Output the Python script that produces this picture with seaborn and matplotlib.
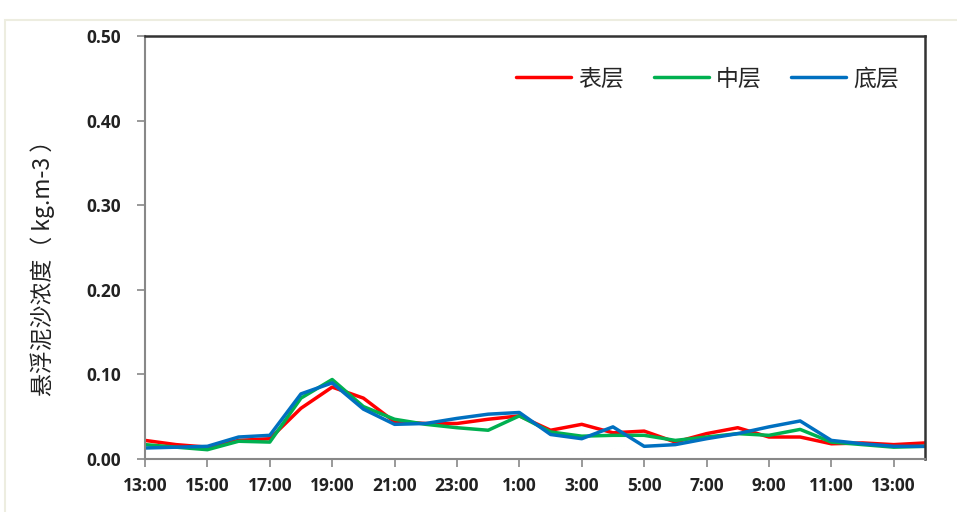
import numpy as np
import pandas as pd
import matplotlib
matplotlib.use('Agg')
import matplotlib.pyplot as plt
import seaborn as sns
from matplotlib.patches import Rectangle

# hourly samples, 13:00 through 14:00 next day
hours = ['13:00', '14:00', '15:00', '16:00', '17:00', '18:00', '19:00', '20:00',
         '21:00', '22:00', '23:00', '0:00', '1:00', '2:00', '3:00', '4:00',
         '5:00', '6:00', '7:00', '8:00', '9:00', '10:00', '11:00', '12:00',
         '13:00', '14:00']
surface = [0.022, 0.017, 0.014, 0.022, 0.024, 0.060, 0.085, 0.072, 0.044, 0.042,
           0.042, 0.047, 0.051, 0.034, 0.041, 0.031, 0.033, 0.020, 0.030, 0.037,
           0.026, 0.026, 0.018, 0.019, 0.017, 0.019]
middle = [0.017, 0.014, 0.011, 0.021, 0.020, 0.072, 0.094, 0.062, 0.047, 0.041,
          0.037, 0.034, 0.051, 0.032, 0.027, 0.028, 0.028, 0.022, 0.026, 0.030,
          0.028, 0.035, 0.020, 0.017, 0.014, 0.015]
bottom = [0.013, 0.014, 0.015, 0.026, 0.028, 0.077, 0.090, 0.059, 0.041, 0.042,
          0.048, 0.053, 0.055, 0.029, 0.024, 0.038, 0.015, 0.017, 0.024, 0.030,
          0.038, 0.045, 0.022, 0.018, 0.015, 0.015]
layers = ['表层', '中层', '底层']
colors = ['#FF0000', '#00B050', '#0070C0']

df = pd.DataFrame({
    'idx': list(range(len(hours))) * 3,
    'value': surface + middle + bottom,
    'layer': [layers[0]] * len(hours) + [layers[1]] * len(hours) + [layers[2]] * len(hours),
})

sns.set_style('white')
plt.rcParams['font.family'] = ['Noto Sans CJK SC', 'DejaVu Sans']

fig = plt.figure(figsize=(9.57, 5.12), dpi=100)
ax = fig.add_axes([0.1515, 0.1035, 0.815, 0.826])

sns.lineplot(data=df, x='idx', y='value', hue='layer', hue_order=layers,
             palette=colors, linewidth=2.5, ax=ax)

tick_font = ['Open Sans', 'DejaVu Sans']
ax.set_xlim(0, len(hours) - 1)
ax.set_ylim(0, 0.5)
ax.set_xticks(range(0, len(hours), 2))
ax.set_xticklabels(hours[::2], fontsize=12.5, fontweight='bold', family=tick_font)
ax.set_yticks(np.arange(0, 0.51, 0.1))
ax.set_yticklabels([f'{v:.2f}' for v in np.arange(0, 0.51, 0.1)],
                   fontsize=12.5, fontweight='bold', family=tick_font)
ax.tick_params(axis='both', direction='out', length=6, width=1.2, color='#888888',
               labelcolor='#222222', bottom=True, left=True)
ax.tick_params(axis='y', pad=11)
ax.tick_params(axis='x', pad=7)
ax.set_xlabel('')
ax.set_ylabel('悬浮泥沙浓度（ kg.m-3 ）', fontsize=16.5, color='#222222')
ax.yaxis.set_label_coords(-0.116, 0.465)

for side in ['left', 'bottom']:
    ax.spines[side].set_color('#888888')
    ax.spines[side].set_linewidth(1.5)
for side in ['top', 'right']:
    ax.spines[side].set_color('#333333')
    ax.spines[side].set_linewidth(1.8)

ax.legend(loc='upper right', ncol=3, frameon=False, fontsize=16.5,
          handlelength=2.4, columnspacing=1.3, handletextpad=0.3,
          bbox_to_anchor=(0.993, 0.975))

# light outer frame of the chart area
fig.patches.append(Rectangle((0.005, -0.01), 1.0, 0.97, transform=fig.transFigure,
                             fill=False, edgecolor='#EDEDE0', linewidth=1.5))

fig.savefig('out.png', dpi=100)
